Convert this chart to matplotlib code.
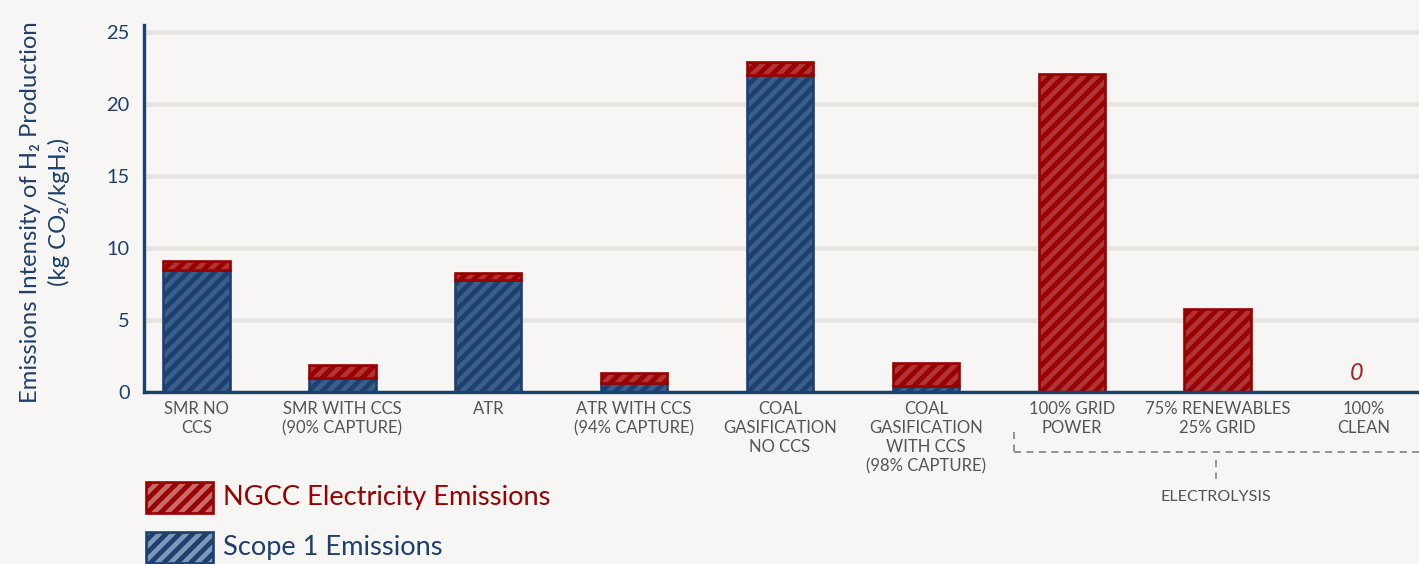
import matplotlib
matplotlib.use("Agg")
import matplotlib.pyplot as plt
from matplotlib.patches import Rectangle
import numpy as np

# ---- data -------------------------------------------------------------
categories = [
    "SMR NO\nCCS",
    "SMR WITH CCS\n(90% CAPTURE)",
    "ATR",
    "ATR WITH CCS\n(94% CAPTURE)",
    "COAL\nGASIFICATION\nNO CCS",
    "COAL\nGASIFICATION\nWITH CCS\n(98% CAPTURE)",
    "100% GRID\nPOWER",
    "75% RENEWABLES\n25% GRID",
    "100%\nCLEAN",
]
scope1 = [8.5, 1.0, 7.8, 0.6, 22.0, 0.45, 0.0, 0.0, 0.0]
ngcc = [0.6, 0.9, 0.45, 0.75, 0.9, 1.55, 22.1, 5.75, 0.0]
yticks = [0, 5, 10, 15, 20, 25]
series_names = ["NGCC Electricity Emissions", "Scope 1 Emissions"]
group_label = "ELECTROLYSIS"
ylabel = "Emissions Intensity of H\u2082 Production\n(kg CO\u2082/kgH\u2082)"

# ---- style ------------------------------------------------------------
BG = "#f7f6f4"
NAVY = "#1d406e"
NAVY_H = "#3a5f8c"
RED = "#990000"
RED_H = "#b03336"
GRID = "#e7e5e2"
GREY = "#575454"
FONT = ["Lato", "DejaVu Sans"]

plt.rcParams["font.family"] = FONT
plt.rcParams["hatch.linewidth"] = 4.2

DPI = 80
W, H = 1419, 564
fig = plt.figure(figsize=(W / DPI, H / DPI), dpi=DPI, facecolor=BG)
ax = fig.add_axes([144 / W, 1 - 392 / H, 1 - 144 / W, (392 - 25) / H])
ax.set_facecolor("none")

x = np.arange(len(categories))
bw = 0.455
tops = [s + n for s, n in zip(scope1, ngcc)]

# scope 1 segment
ax.bar(x, scope1, bw, color=NAVY, edgecolor=NAVY_H, linewidth=0,
       hatch="//", zorder=3)
ax.bar(x, scope1, bw, fill=False, edgecolor=NAVY, linewidth=2.4, zorder=4)
# NGCC electricity segment stacked on top
ax.bar(x, ngcc, bw, bottom=scope1, color=RED, edgecolor=RED_H, linewidth=0,
       hatch="//", zorder=5)
ax.bar(x, ngcc, bw, bottom=scope1, fill=False, edgecolor=RED,
       linewidth=2.4, zorder=6)

# zero value marker for the clean case
for xi, t in zip(x, tops):
    if t == 0:
        ax.annotate("0", (xi, t), xytext=(-6, 7), textcoords="offset points",
                    ha="center", va="bottom", color="#a51d22",
                    fontsize=21, fontstyle="italic")

ax.set_xlim(-0.36, 8.38)
ax.set_ylim(0, 25.5)
ax.set_yticks(yticks)
ax.set_yticklabels([str(v) for v in yticks], color=NAVY, fontsize=18)
ax.set_xticks(x)
ax.set_xticklabels(categories, color=GREY, fontsize=15, linespacing=1.25)
ax.tick_params(axis="y", length=0, pad=13)
ax.tick_params(axis="x", length=0, pad=8)

ax.grid(axis="y", color=GRID, linewidth=4.5, zorder=0)
ax.set_axisbelow(True)
for s in ["top", "right"]:
    ax.spines[s].set_visible(False)
for s in ["left", "bottom"]:
    ax.spines[s].set_color(NAVY)
    ax.spines[s].set_linewidth(3.0)
    ax.spines[s].set_zorder(7)

fig.text(45 / W, 1 - 212 / H, ylabel, rotation=90, ha="center", va="center",
         color=NAVY, fontsize=21.5, linespacing=1.35)

# ---- overlay in pixel space for legend and grouping bracket ------------
ov = fig.add_axes([0, 0, 1, 1], facecolor="none")
ov.set_xlim(0, W)
ov.set_ylim(H, 0)
ov.axis("off")

legend_specs = [(RED, "#c66a6a", 482, series_names[0]),
                (NAVY, "#7d97b8", 532, series_names[1])]
for face, hatch_col, top, label in legend_specs:
    ov.add_patch(Rectangle((146, top), 67, 31, facecolor=face,
                           edgecolor=hatch_col, linewidth=0, hatch="//"))
    ov.add_patch(Rectangle((146, top), 67, 31, fill=False, edgecolor=face,
                           linewidth=2.4))
    ov.text(223, top + 15, label, ha="left", va="center", color=face,
            fontsize=24.5)

dash = dict(color="#8c8a88", linewidth=1.6, linestyle=(0, (4, 3)))
ov.plot([1014, 1014], [432, 452], **dash)
ov.plot([1014, W], [452, 452], **dash)
ov.plot([1216, 1216], [460, 479], **dash)
ov.text(1216, 497, group_label, ha="center", va="center", color=GREY,
        fontsize=14.5)

fig.savefig("out.png", dpi=DPI, facecolor=BG)
